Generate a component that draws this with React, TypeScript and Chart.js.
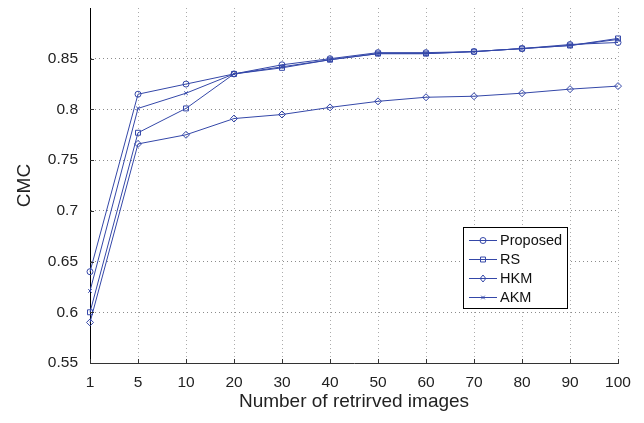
import React, { useEffect, useRef } from 'react';
import { Chart, registerables } from 'chart.js';

Chart.register(...registerables);

const categories = ['1', '5', '10', '20', '30', '40', '50', '60', '70', '80', '90', '100'];
const proposed = [0.640, 0.815, 0.825, 0.835, 0.844, 0.850, 0.856, 0.856, 0.857, 0.860, 0.864, 0.866];
const rs = [0.600, 0.777, 0.801, 0.835, 0.841, 0.849, 0.855, 0.855, 0.857, 0.860, 0.863, 0.870];
const hkm = [0.590, 0.766, 0.775, 0.791, 0.795, 0.802, 0.808, 0.812, 0.813, 0.816, 0.820, 0.823];
const akm = [0.621, 0.801, 0.816, 0.835, 0.842, 0.849, 0.855, 0.855, 0.857, 0.860, 0.863, 0.869];
const seriesNames = ['Proposed', 'RS', 'HKM', 'AKM'];
const yMin = 0.55;
const yMax = 0.9;
const yStep = 0.05;
const xTitle = 'Number of retrirved images';
const yTitle = 'CMC';

const BLUE = '#3447a8';
const FONT = '"Liberation Sans", Arial, Helvetica, sans-serif';

function drawMarker(ctx: CanvasRenderingContext2D, style: string, x: number, y: number, r: number) {
  ctx.beginPath();
  if (style === 'circle') {
    ctx.arc(x, y, r, 0, Math.PI * 2);
  } else if (style === 'rect') {
    const s = r * Math.SQRT1_2;
    ctx.rect(x - s, y - s, 2 * s, 2 * s);
  } else if (style === 'rectRot') {
    ctx.moveTo(x, y - r);
    ctx.lineTo(x + r * 0.8, y);
    ctx.lineTo(x, y + r);
    ctx.lineTo(x - r * 0.8, y);
    ctx.closePath();
  } else if (style === 'crossRot') {
    const s = r * Math.SQRT1_2;
    ctx.moveTo(x - s, y - s);
    ctx.lineTo(x + s, y + s);
    ctx.moveTo(x - s, y + s);
    ctx.lineTo(x + s, y - s);
  }
  ctx.stroke();
}

const innerTicksPlugin = {
  id: 'innerTicks',
  afterDatasetsDraw(chart: any) {
    const { ctx, chartArea, scales } = chart;
    ctx.save();
    ctx.strokeStyle = '#333';
    ctx.lineWidth = 1;
    const xs = scales.x;
    xs.ticks.forEach((_t: any, i: number) => {
      const px = Math.round(xs.getPixelForTick(i)) + 0.5;
      ctx.beginPath();
      ctx.moveTo(px, chartArea.bottom);
      ctx.lineTo(px, chartArea.bottom - 4);
      ctx.stroke();
    });
    const ys = scales.y;
    ys.ticks.forEach((t: any, i: number) => {
      if (Math.abs(t.value - yMax) < 1e-6) return;
      const py = Math.round(ys.getPixelForTick(i)) + 0.5;
      ctx.beginPath();
      ctx.moveTo(chartArea.left, py);
      ctx.lineTo(chartArea.left + 4, py);
      ctx.stroke();
    });
    ctx.restore();
  },
};

const legendPlugin = {
  id: 'insideLegend',
  afterDraw(chart: any) {
    const { ctx, chartArea } = chart;
    const w = 104;
    const h = 81;
    const x0 = chartArea.right - 51 - w;
    const y0 = chartArea.top + 219;
    ctx.save();
    ctx.fillStyle = '#fff';
    ctx.fillRect(x0, y0, w, h);
    ctx.strokeStyle = '#000';
    ctx.lineWidth = 1;
    ctx.strokeRect(x0 + 0.5, y0 + 0.5, w, h);
    ctx.font = `14.5px ${FONT}`;
    ctx.textBaseline = 'middle';
    ctx.textAlign = 'left';
    chart.data.datasets.forEach((ds: any, i: number) => {
      const cy = y0 + 13 + i * 19;
      ctx.strokeStyle = ds.borderColor;
      ctx.lineWidth = 1;
      ctx.beginPath();
      ctx.moveTo(x0 + 6, cy + 0.5);
      ctx.lineTo(x0 + 34, cy + 0.5);
      ctx.stroke();
      drawMarker(ctx, ds.pointStyle, x0 + 20, cy + 0.5, ds.pointRadius);
      ctx.fillStyle = '#111';
      ctx.fillText(ds.label, x0 + 37, cy + 1);
    });
    ctx.restore();
  },
};

export default function App() {
  const ref = useRef<HTMLCanvasElement | null>(null);
  useEffect(() => {
    if (!ref.current) return;
    Chart.defaults.font.family = FONT;
    const styles = ['circle', 'rect', 'rectRot', 'crossRot'];
    const radii = [3, 3.5, 3.5, 2.5];
    const values = [proposed, rs, hkm, akm];
    const chart = new Chart(ref.current, {
      type: 'line',
      data: {
        labels: categories,
        datasets: values.map((v, i) => ({
          label: seriesNames[i],
          data: v,
          borderColor: BLUE,
          borderWidth: 1,
          backgroundColor: 'rgba(0,0,0,0)',
          pointStyle: styles[i],
          pointRadius: radii[i],
          pointBorderColor: BLUE,
          pointBorderWidth: 1,
          pointBackgroundColor: 'rgba(0,0,0,0)',
          tension: 0,
          fill: false,
        })),
      },
      options: {
        animation: false,
        responsive: false,
        layout: { padding: { top: 8, right: 26, left: 0, bottom: 0 } },
        plugins: { legend: { display: false }, tooltip: { enabled: false } },
        scales: {
          x: {
            type: 'category',
            offset: false,
            grid: {
              offset: false,
              drawTicks: false,
              color: 'rgba(0,0,0,0.33)',
              lineWidth: 1,
            },
            border: { display: true, color: '#333', width: 1, dash: [1, 3] },
            ticks: { color: '#222', font: { size: 15.5 }, padding: 10, maxRotation: 0, autoSkip: false },
            title: { display: true, text: xTitle, color: '#222', font: { size: 19 }, padding: { top: 0, bottom: 10 } },
            afterFit(scale: any) {
              scale.height = 60;
              scale.paddingLeft = 0;
              scale.paddingRight = 0;
            },
          },
          y: {
            min: yMin,
            max: yMax,
            grid: {
              drawTicks: false,
              color: (c: any) => (c.tick && Math.abs(c.tick.value - yMax) < 1e-6 ? 'rgba(0,0,0,0)' : 'rgba(0,0,0,0.45)'),
              lineWidth: 1,
            },
            border: { display: true, color: '#000', width: 1, dash: [1, 3] },
            ticks: {
              stepSize: yStep,
              color: '#222',
              font: { size: 15.5 },
              padding: 12,
              callback: (v: any) => (Math.abs(v - yMax) < 1e-6 ? '' : String(Number(Number(v).toFixed(2)))),
            },
            title: { display: true, text: yTitle, color: '#222', font: { size: 19 }, padding: { top: 13, bottom: 0 } },
            afterFit(scale: any) {
              scale.width = 90;
              scale.paddingTop = 0;
              scale.paddingBottom = 0;
            },
          },
        },
      },
      plugins: [innerTicksPlugin, legendPlugin],
    } as any);
    return () => chart.destroy();
  }, []);
  return (
    <div style={{ position: 'absolute', left: 0, top: 0, width: 644, height: 423, background: '#fff' }}>
      <canvas ref={ref} width={644} height={423} style={{ display: 'block', width: 644, height: 423 }} />
    </div>
  );
}
